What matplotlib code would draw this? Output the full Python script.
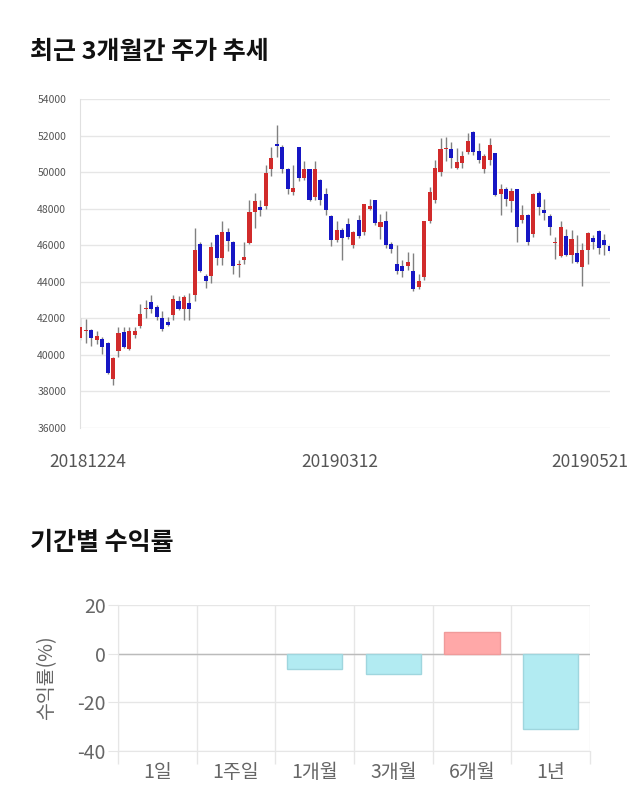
import matplotlib
matplotlib.use("Agg")
import matplotlib.pyplot as plt
import numpy as np

plt.rcParams['font.family'] = ['Noto Sans CJK KR', 'DejaVu Sans']

# ---- data: daily candles (open, high, low, close) ----
opens = [40900, 41300, 41350, 40800, 40850, 40650, 38700, 40200, 41250, 40300,
         41100, 41600, 42500, 42900, 42600, 42000, 41800, 42200, 42950, 42500,
         42850, 43250, 46050, 44300, 44300, 46550, 45300, 46750, 46200, 44900,
         45200, 46100, 47800, 48100, 48150, 50150, 51550, 51400, 50150, 48900,
         51400, 49700, 50150, 48650, 49550, 48800, 47600, 46300, 46850, 47150,
         46000, 47400, 46700, 48000, 48500, 47000, 47300, 46050, 45000, 44850,
         44850, 44600, 43700, 44250, 47350, 48450, 50000, 51250, 51250, 50250,
         50500, 51100, 52200, 51150, 50150, 50650, 51050, 48800, 49100, 48400,
         49100, 47400, 47650, 46600, 48850, 47950, 47600, 46100, 45400, 46500,
         45450, 45600, 44800, 45750, 46400, 46800, 46300, 45950]
highs = [42000, 41950, 41400, 41300, 41000, 40700, 39900, 41550, 41550, 41550,
         41550, 42800, 43000, 43250, 42750, 42400, 42100, 43250, 43200, 43300,
         43400, 46950, 46150, 44400, 46150, 46600, 47300, 46950, 46250, 45200,
         46200, 48500, 48850, 48450, 50400, 51400, 52600, 51500, 50200, 50400,
         51400, 50600, 50150, 50600, 49600, 49150, 47650, 47300, 46950, 47500,
         46800, 47650, 48250, 48550, 48500, 47700, 47850, 46200, 46000, 45200,
         45650, 45600, 44400, 47300, 49200, 50650, 51850, 51900, 51650, 51300,
         51150, 52150, 52250, 51600, 51000, 51850, 51050, 49350, 49200, 49150,
         49100, 48200, 47700, 48850, 48950, 48550, 47700, 46450, 47300, 46900,
         46850, 46550, 46100, 46700, 46550, 46850, 46600, 46100]
lows = [40800, 40650, 40500, 40600, 40050, 38950, 38350, 39900, 40400, 40250,
        40900, 41450, 42000, 42300, 41900, 41300, 41600, 41900, 42450, 41900,
        41900, 42950, 44550, 43650, 43950, 44900, 44900, 45700, 44400, 44250,
        44950, 46050, 46950, 47600, 48000, 49800, 50800, 49950, 48800, 48750,
        49500, 49550, 48400, 48500, 48200, 47650, 45950, 46200, 45200, 46350,
        45850, 46400, 46550, 47900, 47100, 46350, 45850, 45600, 44450, 44250,
        44650, 43500, 43600, 44100, 47200, 48300, 49800, 50600, 50250, 50150,
        50250, 51000, 50950, 50500, 49950, 50400, 48700, 47650, 48150, 47800,
        46200, 47200, 46000, 46450, 47650, 47400, 46550, 45250, 45350, 45400,
        45050, 45000, 43750, 44950, 45800, 45500, 45450, 45550]
closes = [41550, 41350, 40900, 41050, 40450, 39000, 39850, 41200, 40450, 41300,
          41300, 42250, 42550, 42500, 42100, 41400, 41650, 43050, 42500, 43150,
          42500, 45750, 44600, 44050, 45900, 45300, 46750, 46250, 44850, 45000,
          45350, 47800, 48400, 47950, 49950, 50750, 51450, 50150, 49100, 49150,
          49700, 50150, 48450, 50150, 48500, 47950, 46300, 46850, 46400, 46450,
          46750, 46500, 48250, 48150, 47200, 47250, 46000, 45800, 44600, 44600,
          45100, 43600, 44050, 47300, 48900, 50250, 51250, 51300, 50750, 50550,
          50900, 51700, 51100, 50650, 50900, 51500, 48750, 49100, 48550, 48950,
          47000, 47650, 46200, 48800, 48100, 47750, 47000, 46150, 47000, 45450,
          46350, 45100, 45750, 46650, 46200, 45850, 46000, 45700]
date_labels = ["20181224", "20190312", "20190521"]
date_label_idx = [1.4, 47.6, 93.4]
price_ticks = [36000, 38000, 40000, 42000, 44000, 46000, 48000, 50000, 52000, 54000]

# ---- data: period returns ----
periods = ["1일", "1주일", "1개월", "3개월", "6개월", "1년"]
returns = [0.0, 0.0, -6.5, -8.3, 9.0, -31.0]

UP = '#d12b2b'
DOWN = '#1616c4'

fig = plt.figure(figsize=(6.4, 8.1), dpi=100)
fig.patch.set_facecolor('white')

fig.text(30/640, 1-52/810, "최근 3개월간 주가 추세", fontsize=18, fontweight='bold',
         color='#111111', va='center', ha='left')
fig.text(30/640, 1-543/810, "기간별 수익률", fontsize=18, fontweight='bold',
         color='#111111', va='center', ha='left')

# ---- candlestick chart ----
ax = fig.add_axes([80/640, 1-428/810, 530/640, 329/810])
o = np.array(opens); h = np.array(highs); l = np.array(lows); c = np.array(closes)
idx = np.arange(len(o))
cols = [UP if cc >= oo else DOWN for oo, cc in zip(o, c)]
ax.vlines(idx, l, h, color='#808080', linewidth=1.0, zorder=2)
body_bottom = np.minimum(o, c)
body_h = np.maximum(np.abs(c - o), 60)
ax.bar(idx, body_h, bottom=body_bottom, width=0.75, color=cols, linewidth=0, zorder=3)
ax.set_xlim(-0.05, len(o) - 1 + 0.05)
ax.set_ylim(36000, 54000)
ax.set_yticks(price_ticks)
ax.set_yticklabels([str(t) for t in price_ticks])
ax.tick_params(axis='y', length=0, labelsize=7.5, labelcolor='#555555', pad=10)
ax.set_xticks(date_label_idx)
ax.set_xticklabels(date_labels)
ax.tick_params(axis='x', length=0, labelsize=12.5, labelcolor='#555555', pad=18)
ax.grid(axis='y', color='#e6e6e6', linewidth=1)
ax.set_axisbelow(True)
for s in ['top', 'right', 'bottom']:
    ax.spines[s].set_visible(False)
ax.spines['left'].set_color('#e0e0e0')

# ---- returns bar chart ----
ax2 = fig.add_axes([118/640, 1-751/810, 472/640, 146/810])
x = np.arange(len(periods))
bar_cols = ['#b2ebf2' if v < 0 else '#ffa8a8' for v in returns]
edge_cols = ['#9fd6de' if v < 0 else ('#f09a9a' if v > 0 else 'none') for v in returns]
ax2.bar(x, returns, width=0.7, color=bar_cols, edgecolor=edge_cols, linewidth=1, zorder=3)
ax2.set_xlim(-0.5, len(periods) - 0.5)
ax2.set_ylim(-40, 20)
ax2.set_yticks([-40, -20, 0, 20])
ax2.set_yticklabels(['-40', '-20', '0', '20'])
ax2.set_xticks(x)
ax2.set_xticklabels(periods)
ax2.set_xticks(np.arange(-0.5, len(periods)), minor=True)
ax2.tick_params(axis='x', which='major', length=0, labelsize=14, labelcolor='#666666', pad=8)
ax2.tick_params(axis='x', which='minor', length=9, color='#e6e6e6', width=1)
ax2.tick_params(axis='y', length=7, color='#e6e6e6', labelsize=14, labelcolor='#666666', pad=2)
ax2.grid(axis='y', color='#e6e6e6', linewidth=1)
ax2.grid(axis='x', which='minor', color='#e6e6e6', linewidth=1)
ax2.axhline(0, color='#bbbbbb', linewidth=1, zorder=2)
ax2.set_axisbelow(True)
for s in ['top', 'right']:
    ax2.spines[s].set_visible(False)
ax2.spines['left'].set_color('#e6e6e6')
ax2.spines['bottom'].set_color('#e6e6e6')
ax2.set_ylabel("수익률(%)", fontsize=14, color='#666666', labelpad=14)

fig.savefig("out.png", dpi=100, facecolor='white')
